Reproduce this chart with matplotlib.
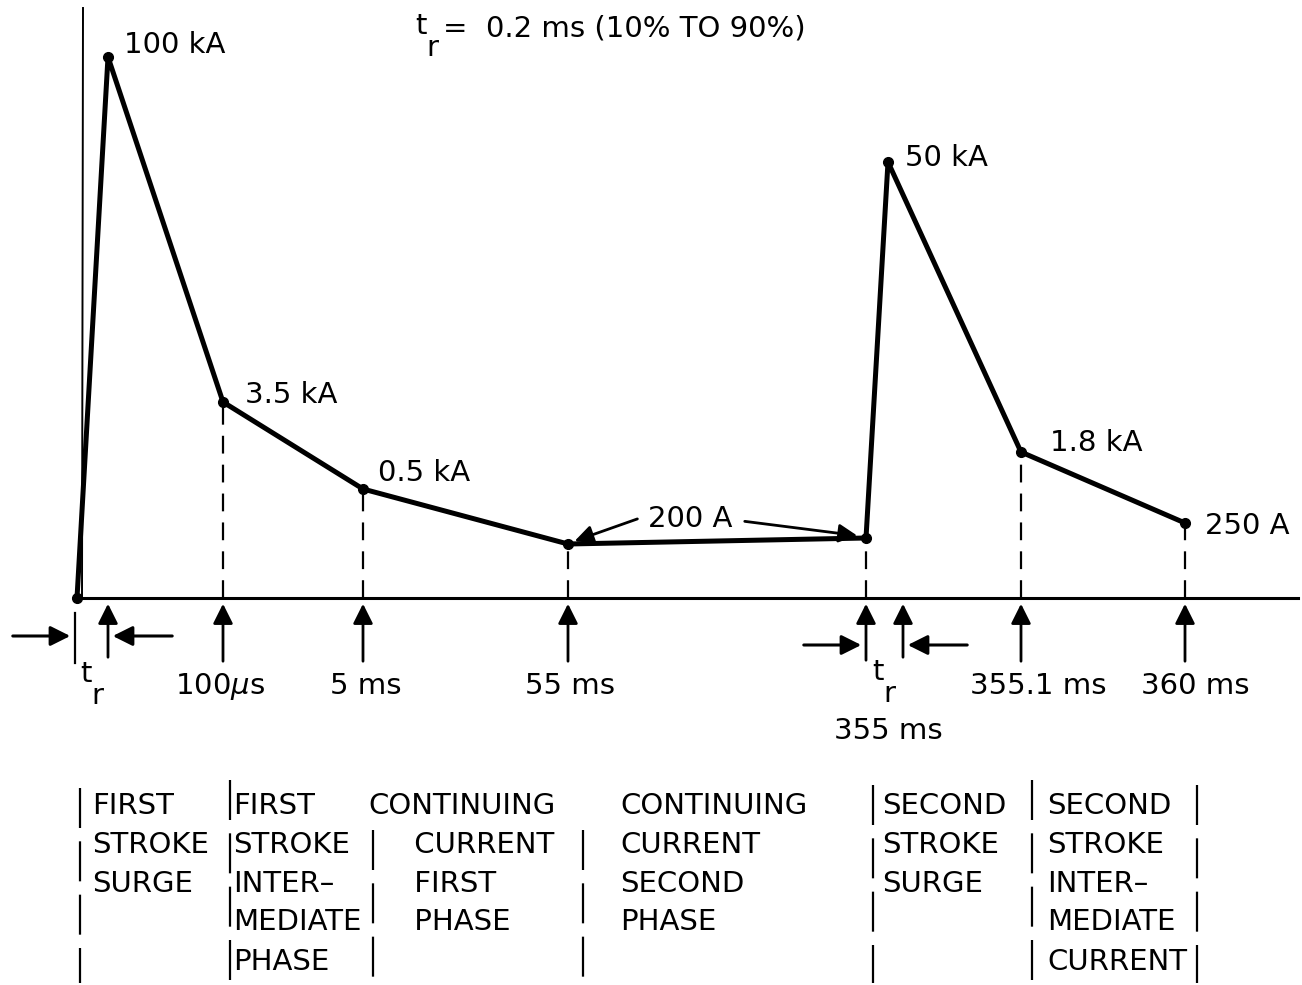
import matplotlib.pyplot as plt

plt.rcParams['font.family'] = 'DejaVu Sans'

# Schematic current waveform (drawing units: x along time axis, y height above baseline)
wave_x = [77, 108, 223, 363, 568, 866, 888, 1021, 1185]
wave_y = [0, 541, 196, 109, 54, 60, 436, 146, 75]

# value annotations next to the vertices (index into wave arrays)
value_idx = [1, 2, 3, 6, 7, 8]
value_text = ['100 kA', '3.5 kA', '0.5 kA', '50 kA', '1.8 kA', '250 A']
value_dx = [16, 22, 15, 17, 29, 20]
value_dy = [12, 7, 16, 4, 9, -3]

# time markers below the baseline
time_x = [223, 363, 568, 1021, 1185]
time_text = ['100$\\mu$s', '5 ms', '55 ms', '355.1 ms', '360 ms']
time_dx = [-3, 3, 2, 17, 10]

# rise-time markers: (start, end of rise) for each stroke
rise_pairs = [(75, 108), (866, 903)]

# phase table below the chart
phase_x = [92, 233, 368, 620, 882, 1047]
phase_lines = [
    ['FIRST', 'STROKE', 'SURGE'],
    ['FIRST', 'STROKE', 'INTER–', 'MEDIATE', 'PHASE'],
    ['CONTINUING', '     CURRENT', '     FIRST', '     PHASE'],
    ['CONTINUING', 'CURRENT', 'SECOND', 'PHASE'],
    ['SECOND', 'STROKE', 'SURGE'],
    ['SECOND', 'STROKE', 'INTER–', 'MEDIATE', 'CURRENT'],
]
sep_x = [80, 230, 373, 583, 873, 1032, 1197]
sep_top = [-190, -182, -232, -232, -187, -182, -187]

fig = plt.figure(figsize=(13.02, 9.85), dpi=100)
ax = fig.add_axes([0, 0, 1, 1])
ax.set_xlim(0, 1302)
ax.set_ylim(-387, 598)
ax.axis('off')

FS = 21


def t_r(x, y, size=FS):
    # "t" with a dropped "r" as on the drawing
    ax.text(x, y, 't', fontsize=size, ha='center', va='center')
    ax.text(x + 11, y - 22, 'r', fontsize=size, ha='center', va='center')


# axes of the sketch
ax.plot([75, 1298], [0, 0], color='black', lw=2.2)
ax.plot([82, 83], [0, 590], color='black', lw=1.4)

# waveform
ax.plot(wave_x, wave_y, color='black', lw=3.6, solid_joinstyle='round', zorder=3)
ax.plot(wave_x, wave_y, 'o', color='black', ms=7, zorder=4)

# dashed drop lines from the vertices to the baseline
for i in [2, 3, 4, 5, 7, 8]:
    ax.plot([wave_x[i], wave_x[i]], [0, wave_y[i]], color='black', lw=1.6,
            dashes=(8, 5))

# value labels
for i, txt, dx, dy in zip(value_idx, value_text, value_dx, value_dy):
    ax.text(wave_x[i] + dx, wave_y[i] + dy, txt, fontsize=FS, va='center', ha='left')

# 200 A pointer
ax.text(690, 79, '200 A', fontsize=FS, ha='center', va='center')
ax.annotate('', xy=(wave_x[4] + 4, wave_y[4] + 2), xytext=(640, 80),
            arrowprops=dict(arrowstyle='-|>', color='black', lw=2, mutation_scale=28))
ax.annotate('', xy=(wave_x[5] - 6, wave_y[5] + 2), xytext=(742, 77),
            arrowprops=dict(arrowstyle='-|>', color='black', lw=2, mutation_scale=28))

# up arrows marking times
arrow_kw = dict(arrowstyle='-|>', color='black', lw=2, mutation_scale=30)
for x, txt, dx in zip(time_x, time_text, time_dx):
    ax.annotate('', xy=(x, -3), xytext=(x, -66), arrowprops=arrow_kw)
    ax.text(x + dx, -88, txt, fontsize=FS, ha='center', va='center')

# rise-time brackets
for (x0, x1), yy in zip(rise_pairs, [-38, -47]):
    ax.annotate('', xy=(x1, -3), xytext=(x1, -62), arrowprops=arrow_kw)
    if x0 < 100:
        ax.plot([x0, x0], [-15, -65], color='black', lw=1.6)
    else:
        ax.annotate('', xy=(x0, -3), xytext=(x0, -65), arrowprops=arrow_kw)
    ax.annotate('', xy=(x0 - 2, yy), xytext=(x0 - 65, yy),
                arrowprops=dict(arrowstyle='-|>', color='black', lw=2.2, mutation_scale=30))
    ax.annotate('', xy=(x1 + 2, yy), xytext=(x1 + 67, yy),
                arrowprops=dict(arrowstyle='-|>', color='black', lw=2.2, mutation_scale=30))

t_r(86, -76)
t_r(878, -74)

ax.text(888, -133, '355 ms', fontsize=FS, ha='center', va='center')

# rise-time note
t_r(421, 572)
ax.text(443, 570, '=  0.2 ms (10% TO 90%)', fontsize=FS, ha='left', va='center')

# phase table
row_y = [-208, -247, -286, -324, -364]
for x, lines in zip(phase_x, phase_lines):
    for yy, txt in zip(row_y, lines):
        ax.text(x, yy, txt, fontsize=FS, ha='left', va='center')

for x, top in zip(sep_x, sep_top):
    ax.plot([x, x], [top, -385], color='black', lw=1.6, dashes=(18, 6))

fig.savefig('out.png', dpi=100)
